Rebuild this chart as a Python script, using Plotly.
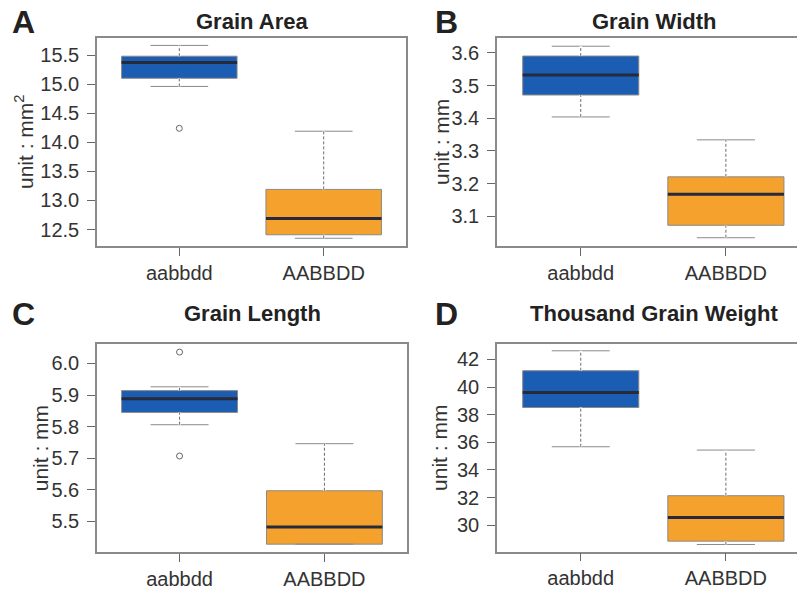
import plotly.graph_objects as go

W, H = 797, 590

genotypes = ["aabbdd", "AABBDD"]
box_colors = ["#1b5db3", "#f5a12d"]

# Grain Area (mm^2)
area_q1 = [15.10, 12.41]
area_median = [15.37, 12.69]
area_q3 = [15.48, 13.19]
area_lo = [14.96, 12.35]
area_hi = [15.665, 14.19]
area_out = [[14.24], []]

# Grain Width (mm)
width_q1 = [3.471, 3.073]
width_median = [3.532, 3.168]
width_q3 = [3.590, 3.221]
width_lo = [3.404, 3.035]
width_hi = [3.620, 3.334]
width_out = [[], []]

# Grain Length (mm)
length_q1 = [5.845, 5.428]
length_median = [5.888, 5.482]
length_q3 = [5.914, 5.597]
length_lo = [5.806, 5.428]
length_hi = [5.926, 5.746]
length_out = [[6.036, 5.707], []]

# Thousand Grain Weight
tgw_q1 = [38.52, 28.85]
tgw_median = [39.60, 30.57]
tgw_q3 = [41.18, 32.14]
tgw_lo = [35.68, 28.61]
tgw_hi = [42.62, 35.44]
tgw_out = [[], []]

panels = [
    dict(letter="A", title="Grain Area", ytitle="unit : mm<sup>2</sup>",
         q1=area_q1, med=area_median, q3=area_q3, lo=area_lo, hi=area_hi, out=area_out,
         yrange=[12.216, 15.792], tickvals=[12.5, 13.0, 13.5, 14.0, 14.5, 15.0, 15.5], fmt=".1f",
         dom_x=[97, 406], dom_y=[38.5, 249], xrange=[0.43, 2.57], mirror_y=True,
         ytx=24, title_x=251.5, title_y=22, letter_x=10, letter_y=22),
    dict(letter="B", title="Grain Width", ytitle="unit : mm",
         q1=width_q1, med=width_median, q3=width_q3, lo=width_lo, hi=width_hi, out=width_out,
         yrange=[3.0096, 3.645], tickvals=[3.1, 3.2, 3.3, 3.4, 3.5, 3.6], fmt=".1f",
         dom_x=[497, 797], dom_y=[38.5, 249], xrange=[0.423, 2.49], mirror_y=False,
         ytx=441, title_x=653.5, title_y=22, letter_x=433, letter_y=22),
    dict(letter="C", title="Grain Length", ytitle="unit : mm",
         q1=length_q1, med=length_median, q3=length_q3, lo=length_lo, hi=length_hi, out=length_out,
         yrange=[5.402, 6.061], tickvals=[5.5, 5.6, 5.7, 5.8, 5.9, 6.0], fmt=".1f",
         dom_x=[97, 407], dom_y=[348.3, 559], xrange=[0.43, 2.57], mirror_y=True,
         ytx=40, title_x=252, title_y=317.5, letter_x=10, letter_y=318),
    dict(letter="D", title="Thousand Grain Weight", ytitle="unit : mm",
         q1=tgw_q1, med=tgw_median, q3=tgw_q3, lo=tgw_lo, hi=tgw_hi, out=tgw_out,
         yrange=[28.09, 43.1], tickvals=[30, 32, 34, 36, 38, 40, 42], fmt="d",
         dom_x=[497, 797], dom_y=[348.3, 558.3], xrange=[0.423, 2.49], mirror_y=False,
         ytx=440, title_x=654, title_y=317.5, letter_x=433, letter_y=318),
]

FONT = "Liberation Sans, Arial, Helvetica, sans-serif"
fig = go.Figure()
layout = dict(
    width=W, height=H, margin=dict(l=0, r=0, t=0, b=0),
    paper_bgcolor="white", plot_bgcolor="white", showlegend=False,
    font=dict(family=FONT, color="#333333"),
)
annotations = []
BOXW = 0.8
for i, p in enumerate(panels):
    sfx = "" if i == 0 else str(i + 1)
    xa, ya = "x" + sfx, "y" + sfx
    for j, g in enumerate(genotypes):
        pos = j + 1
        fig.add_trace(go.Box(
            x=[pos], q1=[p["q1"][j]], median=[p["med"][j]], q3=[p["q3"][j]],
            lowerfence=[p["lo"][j]], upperfence=[p["hi"][j]],
            width=BOXW, whiskerwidth=0.5, fillcolor=box_colors[j],
            line=dict(color="#8a8a8a", width=1), boxpoints=False,
            xaxis=xa, yaxis=ya, hoverinfo="skip"))
        # dashed whiskers (R style)
        for a, b in [(p["q3"][j], p["hi"][j]), (p["lo"][j], p["q1"][j])]:
            if b - a <= 0:
                continue
            fig.add_trace(go.Scatter(x=[pos, pos], y=[a, b], mode="lines",
                                     line=dict(color="white", width=2.5),
                                     xaxis=xa, yaxis=ya, hoverinfo="skip"))
            fig.add_trace(go.Scatter(x=[pos, pos], y=[a, b], mode="lines",
                                     line=dict(color="#6e6e6e", width=1, dash="3px,2px"),
                                     xaxis=xa, yaxis=ya, hoverinfo="skip"))
        # median
        fig.add_trace(go.Scatter(x=[pos - BOXW / 2, pos + BOXW / 2], y=[p["med"][j]] * 2,
                                 mode="lines", line=dict(color="#262a3a", width=3),
                                 xaxis=xa, yaxis=ya, hoverinfo="skip"))
        if p["out"][j]:
            fig.add_trace(go.Scatter(x=[pos] * len(p["out"][j]), y=p["out"][j], mode="markers",
                                     marker=dict(symbol="circle-open", size=6,
                                                 color="#666666", line=dict(width=1)),
                                     xaxis=xa, yaxis=ya, hoverinfo="skip"))
    dx = [p["dom_x"][0] / W, p["dom_x"][1] / W]
    dy = [1 - p["dom_y"][1] / H, 1 - p["dom_y"][0] / H]
    layout["xaxis" + sfx] = dict(
        domain=dx, range=p["xrange"], anchor=ya, tickmode="array",
        tickvals=[1, 2], ticktext=genotypes, ticks="outside", ticklen=8,
        tickcolor="#666666", showline=True, linecolor="#8a8a8a", linewidth=1.5,
        mirror=True, showgrid=False, zeroline=False, fixedrange=True,
        tickfont=dict(size=20, color="#333333", family=FONT))
    layout["yaxis" + sfx] = dict(
        domain=dy, range=p["yrange"], anchor=xa, tickmode="array",
        tickvals=p["tickvals"], ticktext=[format(v, p["fmt"]) for v in p["tickvals"]],
        ticks="outside", ticklen=8, tickcolor="#666666", showline=True,
        linecolor="#8a8a8a", linewidth=1.5, mirror=p["mirror_y"], showgrid=False,
        zeroline=False, fixedrange=True, ticklabelstandoff=4,
        tickfont=dict(size=20, color="#333333", family=FONT))
    annotations.append(dict(text=p["title"], x=p["title_x"] / W, y=1 - p["title_y"] / H,
                            xref="paper", yref="paper", showarrow=False,
                            xanchor="center", yanchor="middle",
                            font=dict(size=22, color="#222222", family=FONT, weight="bold")))
    annotations.append(dict(text=p["letter"], x=p["letter_x"] / W, y=1 - p["letter_y"] / H,
                            xref="paper", yref="paper", showarrow=False,
                            xanchor="left", yanchor="middle",
                            font=dict(size=32, color="#222222", family=FONT, weight="bold")))
    yc = (p["dom_y"][0] + p["dom_y"][1]) / 2
    annotations.append(dict(text=p["ytitle"], x=p["ytx"] / W, y=1 - yc / H,
                            xref="paper", yref="paper", showarrow=False, textangle=-90,
                            xanchor="center", yanchor="middle",
                            font=dict(size=21, color="#333333", family=FONT)))

layout["annotations"] = annotations
fig.update_layout(**layout)
fig.write_html("out.html", config={"displayModeBar": False},
               post_script="document.body.style.margin='0px';")
